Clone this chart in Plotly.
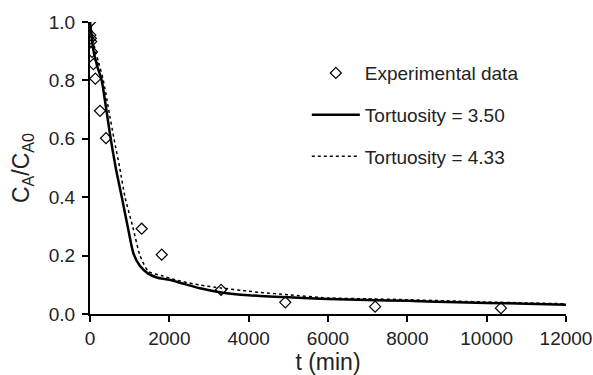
import plotly.graph_objects as go

# Experimental data
t_exp = [0, 10, 20, 30, 50, 84, 134, 252, 403, 1303, 1808, 3304, 4923, 7188, 10360]
c_exp = [1.0, 0.955, 0.944, 0.933, 0.898, 0.856, 0.806, 0.696, 0.602, 0.292, 0.203, 0.083, 0.04, 0.025, 0.02]

# Model, tortuosity = 3.50
t_m1 = [0, 40, 84, 180, 295, 400, 522, 650, 799, 950, 1093, 1261, 1450, 1681, 2000, 2270, 2774, 3304, 4000, 4287, 5000, 6000, 7000, 8000, 9000, 10000, 11000, 12000]
c_m1 = [1.0, 0.95, 0.904, 0.85, 0.8, 0.71, 0.6, 0.5, 0.402, 0.3, 0.208, 0.164, 0.14, 0.125, 0.117, 0.107, 0.088, 0.074, 0.064, 0.062, 0.057, 0.051, 0.048, 0.045, 0.041, 0.038, 0.035, 0.032]

# Model, tortuosity = 4.33
t_m2 = [0, 50, 120, 220, 336, 470, 605, 750, 883, 1076, 1261, 1471, 1841, 2200, 2774, 3304, 4000, 4287, 5000, 6000, 7000, 8000, 9000, 10000, 11000, 12000]
c_m2 = [1.0, 0.96, 0.91, 0.86, 0.8, 0.7, 0.6, 0.5, 0.4, 0.3, 0.2, 0.146, 0.13, 0.115, 0.099, 0.089, 0.078, 0.074, 0.066, 0.055, 0.052, 0.049, 0.045, 0.041, 0.038, 0.035]

x_ticks = [0, 2000, 4000, 6000, 8000, 10000, 12000]
x_ticklabels = ["0", "2000", "4000", "6000", "8000", "10000", "12000"]
y_ticks = [0, 0.2, 0.4, 0.6, 0.8, 1.0]
y_ticklabels = ["0.0", "0.2", "0.4", "0.6", "0.8", "1.0"]

fig = go.Figure()
fig.add_trace(go.Scatter(
    x=t_exp, y=c_exp, mode="markers", name="Experimental data",
    marker=dict(symbol="diamond-open", size=8.5, color="black", line=dict(width=1.2, color="black")),
    legendgroup="a"))
fig.add_trace(go.Scatter(
    x=t_m1, y=c_m1, mode="lines", name="Tortuosity = 3.50",
    line=dict(color="black", width=2.5, shape="spline", smoothing=0.6),
    legendgroup="b"))
fig.add_trace(go.Scatter(
    x=t_m2, y=c_m2, mode="lines", name="Tortuosity = 4.33",
    line=dict(color="black", width=1.5, dash="dot", shape="spline", smoothing=0.6),
    legendgroup="c"))

font = dict(family="Liberation Sans, Arial, sans-serif", size=19, color="#222")
fig.update_layout(
    width=593, height=375,
    margin=dict(l=90, r=27, t=22, b=61, autoexpand=False),
    paper_bgcolor="white", plot_bgcolor="white",
    font=font,
    showlegend=True,
    legend=dict(x=0.4555, y=0.89, xanchor="left", yanchor="top",
                bgcolor="rgba(0,0,0,0)", tracegroupgap=14,
                itemwidth=48, font=font),
)
fig.update_xaxes(
    range=[0, 12000], tickvals=x_ticks, ticktext=x_ticklabels, automargin=False,
    showgrid=False, zeroline=False, showline=True, linecolor="black", linewidth=2,
    ticks="outside", ticklen=6, tickwidth=2, tickcolor="black",
    title=dict(text="t (min)", standoff=6), fixedrange=True)
fig.update_yaxes(
    range=[0, 1.0], tickvals=y_ticks, ticktext=y_ticklabels, automargin=False,
    ticklabelstandoff=3,
    showgrid=False, zeroline=False, showline=True, linecolor="black", linewidth=2,
    ticks="outside", ticklen=6, tickwidth=2, tickcolor="black",
    title=dict(text="C<sub>A</sub>/C<sub>A0</sub>", standoff=13))

fig.write_html("out.html")
